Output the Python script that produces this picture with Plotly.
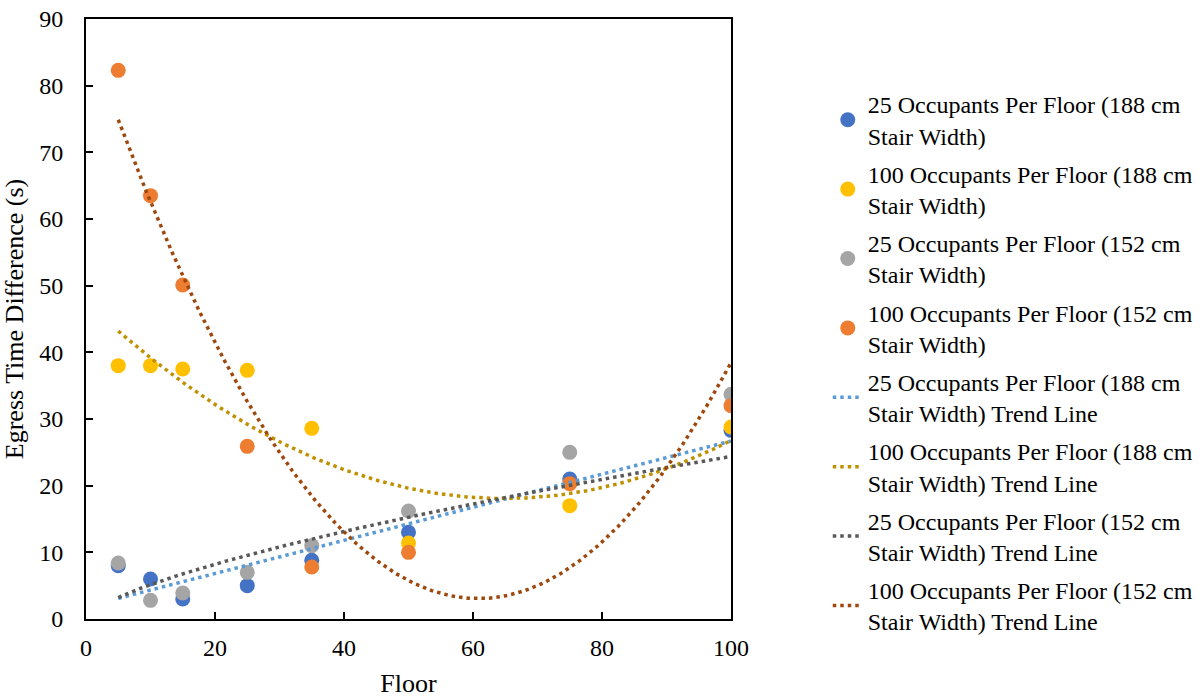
import numpy as np
import plotly.graph_objects as go

# Floors simulated
floors = [5, 10, 15, 25, 35, 50, 75, 100]

# Egress time differences (s)
occ25_188 = [8.0, 6.0, 3.0, 5.0, 8.8, 13.0, 21.0, 28.3]
occ100_188 = [38.0, 38.0, 37.5, 37.3, 28.6, 11.4, 17.0, 28.8]
occ25_152 = [8.4, 2.8, 3.9, 7.0, 11.0, 16.2, 25.0, 33.7]
occ100_152 = [82.3, 63.5, 50.1, 25.9, 7.8, 10.0, 20.3, 32.0]

names = [
    "25 Occupants Per Floor (188 cm<br>Stair Width)",
    "100 Occupants Per Floor (188 cm<br>Stair Width)",
    "25 Occupants Per Floor (152 cm<br>Stair Width)",
    "100 Occupants Per Floor (152 cm<br>Stair Width)",
]
marker_colors = ["#4472C4", "#FFC000", "#A5A5A5", "#ED7D31"]
trend_colors = ["#5B9BD5", "#BF9000", "#595959", "#9E480E"]
trend_kinds = ["linear", "poly2", "power", "poly2"]

series = [occ25_188, occ100_188, occ25_152, occ100_152]

FONT = "Times New Roman"

x = np.array(floors, dtype=float)
xs = np.linspace(x.min(), x.max(), 300)


def trend(y, kind):
    y = np.asarray(y, dtype=float)
    if kind == "linear":
        return np.polyval(np.polyfit(x, y, 1), xs)
    if kind == "poly2":
        return np.polyval(np.polyfit(x, y, 2), xs)
    if kind == "power":
        b, ln_a = np.polyfit(np.log(x), np.log(y), 1)
        return np.exp(ln_a) * xs ** b
    raise ValueError(kind)


fig = go.Figure()

for y, name, col in zip(series, names, marker_colors):
    fig.add_trace(go.Scatter(
        x=floors, y=y, mode="markers", name=name,
        marker=dict(color=col, size=15, line=dict(width=0)),
        legendgroup=name,
    ))

for y, name, col, kind in zip(series, names, trend_colors, trend_kinds):
    fig.add_trace(go.Scatter(
        x=xs, y=trend(y, kind), mode="lines", name=name + " Trend Line",
        line=dict(color=col, width=3.5, dash="3.5px,4px"),
        legendgroup=name + " trend",
    ))

axis_common = dict(
    showgrid=False, zeroline=False, automargin=False,
    showline=True, linecolor="black", linewidth=2, mirror=True,
    ticks="inside", ticklen=7, tickwidth=2, tickcolor="black",
    tickfont=dict(family=FONT, size=24, color="black"),
)

fig.update_layout(
    width=1204, height=698,
    margin=dict(l=86, r=473, t=19, b=79, autoexpand=False),
    paper_bgcolor="white", plot_bgcolor="white",
    font=dict(family=FONT, color="black"),
    xaxis=dict(
        range=[0, 100], dtick=20, ticklabelstandoff=6,
        title=dict(text="Floor", font=dict(family=FONT, size=26, color="black"), standoff=18),
        **axis_common,
    ),
    yaxis=dict(
        range=[0, 90], dtick=10, ticklabelstandoff=16,
        title=dict(text="Egress Time Difference (s)", font=dict(family=FONT, size=26, color="black"), standoff=12),
        **axis_common,
    ),
    legend=dict(
        x=1.15, xanchor="left", y=0.895, yanchor="top",
        font=dict(family=FONT, size=24, color="black"),
        tracegroupgap=4, traceorder="grouped",
        bgcolor="rgba(0,0,0,0)",
    ),
    showlegend=True,
)

fig.write_html("out.html")
